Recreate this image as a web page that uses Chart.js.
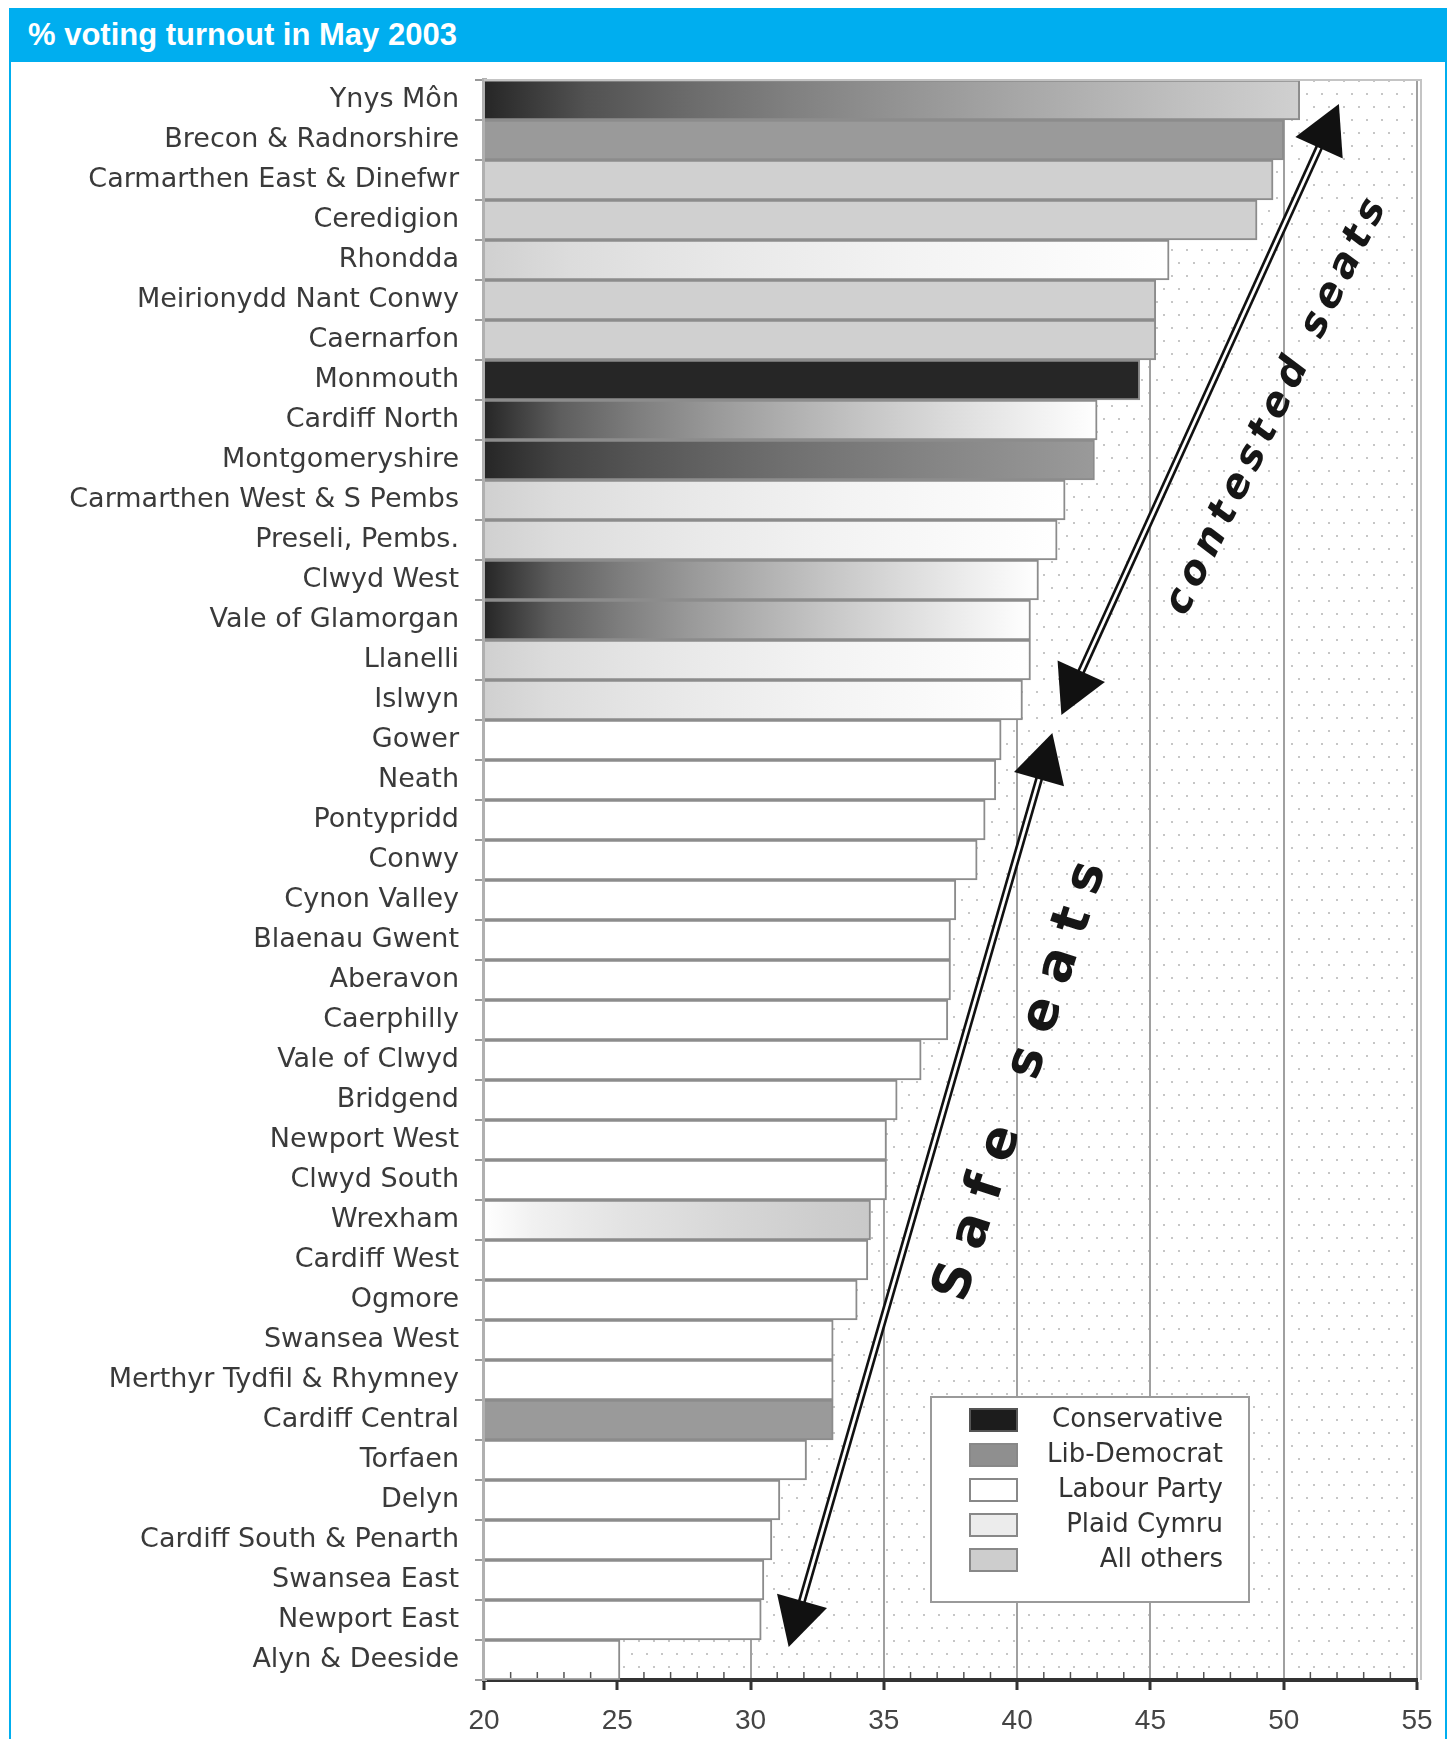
<!DOCTYPE html>
<html lang="en">
<head>
<meta charset="UTF-8">
<title>% voting turnout in May 2003</title>
<script src="https://cdn.jsdelivr.net/npm/chart.js@4.4.1/dist/chart.umd.min.js"></script>
<style>
  html, body { margin: 0; padding: 0; background: #fff; }
  #frame {
    position: absolute; left: 9px; top: 8px;
    width: 1434px; height: 1740px;
    border: 2px solid #00aeef; border-bottom: none;
  }
  #head {
    height: 52px; background: #00aeef; color: #fff;
    font: bold 31px 'Liberation Sans', Arial, sans-serif;
    line-height: 50px; padding-left: 17px;
  }
  #turnoutChart { display: block; }
</style>
</head>
<body>
<div id="frame">
  <div id="head">% voting turnout in May 2003</div>
  <canvas id="turnoutChart" width="1434" height="1677"></canvas>
</div>

<script>
// Welsh Assembly constituencies, highest turnout first
const constituencies = [
  'Ynys Môn', 'Brecon & Radnorshire', 'Carmarthen East & Dinefwr', 'Ceredigion',
  'Rhondda', 'Meirionydd Nant Conwy', 'Caernarfon', 'Monmouth', 'Cardiff North',
  'Montgomeryshire', 'Carmarthen West & S Pembs', 'Preseli, Pembs.', 'Clwyd West',
  'Vale of Glamorgan', 'Llanelli', 'Islwyn', 'Gower', 'Neath', 'Pontypridd', 'Conwy',
  'Cynon Valley', 'Blaenau Gwent', 'Aberavon', 'Caerphilly', 'Vale of Clwyd',
  'Bridgend', 'Newport West', 'Clwyd South', 'Wrexham', 'Cardiff West', 'Ogmore',
  'Swansea West', 'Merthyr Tydfil & Rhymney', 'Cardiff Central', 'Torfaen', 'Delyn',
  'Cardiff South & Penarth', 'Swansea East', 'Newport East', 'Alyn & Deeside'
];

// % turnout
const turnout = [
  50.6, 50.0, 49.6, 49.0, 45.7, 45.2, 45.2, 44.6, 43.0, 42.9,
  41.8, 41.5, 40.8, 40.5, 40.5, 40.2, 39.4, 39.2, 38.8, 38.5,
  37.7, 37.5, 37.5, 37.4, 36.4, 35.5, 35.1, 35.1, 34.5, 34.4,
  34.0, 33.1, 33.1, 33.1, 32.1, 31.1, 30.8, 30.5, 30.4, 25.1
];

// party holding the seat
const heldBy = [
  'pc', 'ld', 'pc', 'pc', 'lab', 'pc', 'pc', 'con', 'lab', 'ld',
  'lab', 'lab', 'lab', 'lab', 'lab', 'lab', 'lab', 'lab', 'lab', 'lab',
  'lab', 'lab', 'lab', 'lab', 'lab', 'lab', 'lab', 'lab', 'oth', 'lab',
  'lab', 'lab', 'lab', 'ld', 'lab', 'lab', 'lab', 'lab', 'lab', 'lab'
];

// main challenger where the seat was contested (null = safe)
const challenger = [
  'con', null, null, null, 'pc', null, null, null, 'con', 'con',
  'pc', 'pc', 'con', 'con', 'pc', 'pc', null, null, null, null,
  null, null, null, null, null, null, null, null, 'lab', null,
  null, null, null, null, null, null, null, null, null, null
];

const partyKeys  = ['con', 'ld', 'lab', 'pc', 'oth'];
const partyNames = ['Conservative', 'Lib-Democrat', 'Labour Party', 'Plaid Cymru', 'All others'];

const tickValues = [20, 25, 30, 35, 40, 45, 50, 55];

// arrow end points in axis units: [turnout, row]
const contestedArrow = [[41.66, 15.375], [52.07, 0.1]];
const safeArrow = [[31.43, 38.675], [41.32, 15.825]];
const contestedLabel = { text: 'contested seats', at: [49.73, 7.68], angle: -64 };
const safeLabel = { text: 'Safe seats', at: [40.18, 24.54], angle: -72 };

const barColour = { con: '#262626', ld: '#9a9a9a', lab: '#ffffff', pc: '#d0d0d0', oth: '#c9c9c9' };
const keyColour = { con: '#1c1c1c', ld: '#8f8f8f', lab: '#ffffff', pc: '#ececec', oth: '#cdcdcd' };

function grey(hex) { return parseInt(hex.slice(1, 3), 16); }

function barFill(c) {
  const i = c.dataIndex;
  if (i === undefined) return '#fff';
  const solid = barColour[heldBy[i]];
  const x = c.chart.scales.x;
  if (!challenger[i] || !x || !c.chart.chartArea) return solid;
  const g = c.chart.ctx.createLinearGradient(x.getPixelForValue(tickValues[0]), 0, x.getPixelForValue(turnout[i]), 0);
  // shade changes quickly near the axis and flattens toward the bar end
  const a = grey(barColour[challenger[i]]), b = grey(solid);
  for (let k = 0; k <= 8; k++) {
    const t = k / 8, v = Math.round(a + (b - a) * Math.pow(t, 0.65));
    g.addColorStop(t, `rgb(${v},${v},${v})`);
  }
  return g;
}

let dots = null;
function dotPattern(ctx) {
  if (dots) return dots;
  const t = document.createElement('canvas');
  t.width = 30; t.height = 26;
  const g = t.getContext('2d');
  g.fillStyle = '#c6c6c6';
  [[5, 5], [20, 5], [12, 18], [27, 18]].forEach(([x, y]) => g.fillRect(x, y, 2, 2));
  dots = ctx.createPattern(t, 'repeat');
  return dots;
}

function drawArrow(ctx, p0, p1) {
  const dx = p1.x - p0.x, dy = p1.y - p0.y, len = Math.hypot(dx, dy);
  const ux = dx / len, uy = dy / len, nx = -uy, ny = ux;
  const head = 48, half = 26;
  ctx.save();
  ctx.lineCap = 'butt';
  ctx.beginPath();
  ctx.moveTo(p0.x + ux * head * 0.8, p0.y + uy * head * 0.8);
  ctx.lineTo(p1.x - ux * head * 0.8, p1.y - uy * head * 0.8);
  ctx.strokeStyle = '#111'; ctx.lineWidth = 8; ctx.stroke();
  ctx.strokeStyle = '#fff'; ctx.lineWidth = 2.8; ctx.stroke();
  ctx.fillStyle = '#111';
  [[p1, 1], [p0, -1]].forEach(([tip, s]) => {
    const bx = tip.x - s * ux * head, by = tip.y - s * uy * head;
    ctx.beginPath();
    ctx.moveTo(tip.x, tip.y);
    ctx.lineTo(bx + nx * half, by + ny * half);
    ctx.lineTo(bx - nx * half, by - ny * half);
    ctx.closePath();
    ctx.fill();
  });
  ctx.restore();
}

function drawSpaced(ctx, label, p, font, spacing) {
  const chars = [...label.text];
  ctx.save();
  ctx.font = font;
  ctx.fillStyle = '#161616';
  ctx.translate(p.x, p.y);
  ctx.rotate(label.angle * Math.PI / 180);
  const w = chars.map(ch => ctx.measureText(ch).width);
  let x = -(w.reduce((a, b) => a + b, 0) + spacing * (chars.length - 1)) / 2;
  ctx.textBaseline = 'middle';
  chars.forEach((ch, k) => { ctx.fillText(ch, x, 0); x += w[k] + spacing; });
  ctx.restore();
}

const decor = {
  id: 'decor',
  beforeDraw(chart) {
    const { ctx, chartArea: a } = chart;
    ctx.save();
    ctx.fillStyle = '#fff';
    ctx.fillRect(0, 0, chart.width, chart.height);
    ctx.fillStyle = dotPattern(ctx);
    ctx.fillRect(a.left, a.top, a.right - a.left, a.bottom - a.top);
    ctx.restore();
  },
  afterDatasetsDraw(chart) {
    const { ctx, chartArea: a, scales: { x, y } } = chart;
    const pt = v => ({ x: x.getPixelForValue(v[0]), y: y.getPixelForValue(v[1]) });

    ctx.save();
    // plot frame, top and right
    ctx.strokeStyle = '#c4c4c4';
    ctx.lineWidth = 2;
    ctx.beginPath();
    ctx.moveTo(a.left, a.top); ctx.lineTo(a.right + 4, a.top); ctx.lineTo(a.right + 4, a.bottom);
    ctx.stroke();

    // minor ticks every 1%
    ctx.strokeStyle = '#555';
    ctx.lineWidth = 1.5;
    for (let v = tickValues[0] + 1; v < tickValues[tickValues.length - 1]; v++) {
      if (v % 5 === 0) continue;
      const px = x.getPixelForValue(v);
      ctx.beginPath(); ctx.moveTo(px, a.bottom - 2); ctx.lineTo(px, a.bottom - 8); ctx.stroke();
    }
    ctx.restore();

    drawArrow(ctx, pt(contestedArrow[0]), pt(contestedArrow[1]));
    drawArrow(ctx, pt(safeArrow[0]), pt(safeArrow[1]));
    drawSpaced(ctx, contestedLabel, pt(contestedLabel.at), 'italic bold 40px "DejaVu Sans"', 7);
    drawSpaced(ctx, safeLabel, pt(safeLabel.at), 'bold 52px "DejaVu Sans"', 17);

    // party key
    const bw = 318, bh = 205;
    const bx = a.right - 168 - bw, by = a.bottom - 78 - bh;
    ctx.save();
    ctx.fillStyle = '#fff';
    ctx.fillRect(bx, by, bw, bh);
    ctx.strokeStyle = '#9a9a9a';
    ctx.lineWidth = 2;
    ctx.strokeRect(bx, by, bw, bh);
    ctx.font = '26px "DejaVu Sans"';
    ctx.textAlign = 'right';
    ctx.textBaseline = 'middle';
    partyKeys.forEach((k, i) => {
      const ry = by + 23 + i * 35;
      ctx.fillStyle = keyColour[k];
      ctx.fillRect(bx + 39, ry - 11, 47, 22);
      ctx.strokeStyle = k === 'con' ? '#555' : '#888';
      ctx.strokeRect(bx + 39, ry - 11, 47, 22);
      ctx.fillStyle = '#333';
      ctx.fillText(partyNames[i], bx + 292, ry);
    });
    ctx.restore();
  }
};

new Chart(document.getElementById('turnoutChart'), {
  type: 'bar',
  data: {
    labels: constituencies,
    datasets: [{
      data: turnout,
      base: tickValues[0],
      backgroundColor: barFill,
      borderColor: '#8c8c8c',
      borderWidth: 2,
      borderSkipped: 'start',
      categoryPercentage: 1,
      barPercentage: 1
    }]
  },
  options: {
    indexAxis: 'y',
    responsive: false,
    animation: false,
    layout: { padding: { top: 18, right: 28, left: 0, bottom: 0 } },
    plugins: { legend: { display: false }, tooltip: { enabled: false } },
    scales: {
      x: {
        min: tickValues[0],
        max: tickValues[tickValues.length - 1],
        afterBuildTicks: s => { s.ticks = tickValues.map(v => ({ value: v })); },
        afterFit: s => { s.height = 59; s.paddingLeft = 0; s.paddingRight = 0; },
        grid: { color: '#a0a0a0', lineWidth: 2, tickColor: '#333', tickWidth: 3, tickLength: 10 },
        border: { color: '#333', width: 4 },
        ticks: { color: '#444', padding: 14, font: { family: 'Liberation Sans', size: 28 } }
      },
      y: {
        afterFit: s => { s.width = 473; s.paddingTop = 0; s.paddingBottom = 0; },
        grid: { drawOnChartArea: false, color: '#999', lineWidth: 2, tickLength: 9, offset: true },
        border: { color: '#b0b0b0', width: 5 },
        ticks: { color: '#3a3a3a', padding: 16, autoSkip: false, font: { family: 'DejaVu Sans', size: 27 } }
      }
    }
  },
  plugins: [decor]
});
</script>
</body>
</html>
